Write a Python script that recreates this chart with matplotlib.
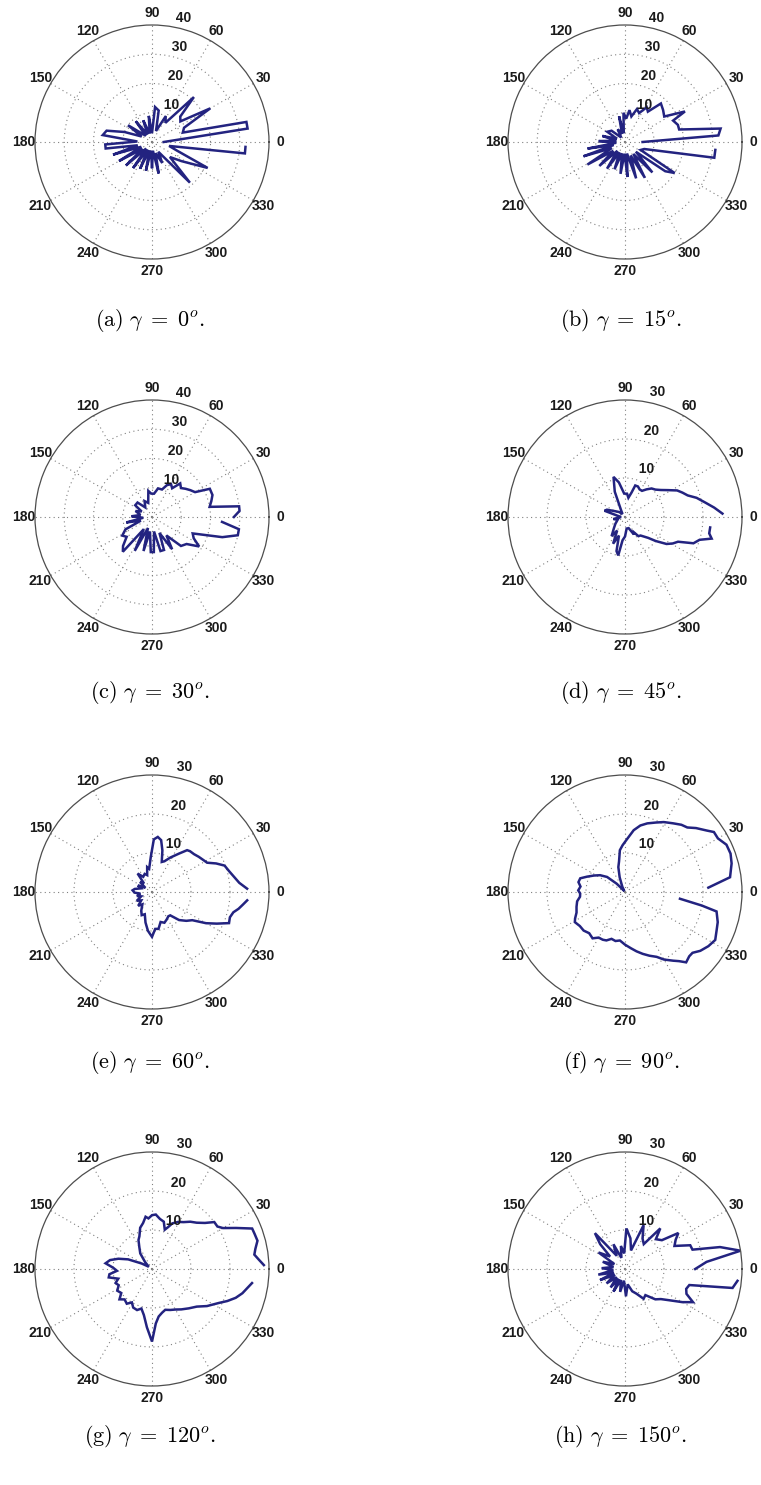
import numpy as np
import matplotlib
matplotlib.use("Agg")
import matplotlib.pyplot as plt

plt.rcParams['mathtext.fontset'] = 'cm'
plt.rcParams['font.family'] = ['Liberation Sans', 'DejaVu Sans']

# angles (deg) and radii
theta_a = [0, 8, 12, 17, 24, 30, 36, 42, 47, 55, 62, 70, 78, 85, 90, 97, 105, 112, 120,
           128, 135, 145, 152, 160, 166, 172, 178, 183, 188, 193, 198, 204, 210, 216, 222,
           228, 234, 240, 246, 252, 258, 264, 270, 276, 282, 288, 296, 303, 313, 320, 327,
           335, 341, 347, 353, 357]
r_a = [4, 33, 33, 11, 12, 23, 12, 13, 21, 8, 10, 4, 11, 12, 3, 9, 3, 8, 3,
       9, 3, 10, 4, 10, 16, 17, 5, 16, 16, 5, 14, 4, 13, 4, 12,
       3, 11, 3, 10, 3, 10, 3, 9, 3, 11, 4, 8, 4, 19, 8, 12,
       21, 9, 6, 32, 32]

theta_b = [0, 4, 8, 13, 18, 24, 27, 33, 40, 47, 53, 58, 64, 70, 76, 82, 87, 93, 98, 103,
           110, 120, 130, 140, 150, 158, 165, 172, 178, 185, 190, 195, 199, 205, 211, 217,
           223, 229, 236, 242, 249, 255, 262, 268, 274, 280, 287, 293, 299, 305, 312, 318,
           324, 328, 333, 340, 350, 355]
r_b = [6, 32, 33, 19, 19, 18, 23, 16, 17, 18, 13, 14, 11, 12, 9, 11, 8, 10, 3, 9,
       3, 5, 2, 6, 7, 3, 8, 3, 9, 3, 13, 4, 15, 5, 15, 5,
       12, 4, 11, 4, 10, 4, 11, 4, 12, 4, 13, 5, 14, 5, 14, 5,
       17, 20, 6, 7, 31, 31]

theta_c = [0, 4, 7, 10, 15, 20, 26, 30, 35, 40, 45, 50, 55, 60, 65, 70, 78, 85, 92, 98,
           105, 115, 125, 135, 145, 152, 160, 170, 178, 185, 192, 198, 205, 212, 218, 225,
           230, 236, 243, 250, 256, 262, 268, 273, 278, 284, 290, 295, 302, 308, 315, 322,
           328, 333, 338, 344, 348, 352, 356]
r_c = [28, 30, 30, 20, 21, 22, 22, 17, 16, 15, 14, 15, 12, 13, 12, 10, 10, 8, 8, 9,
       5, 6, 4, 7, 7, 4, 6, 4, 7, 3, 9, 4, 10, 12, 11, 14,
       15.5, 5, 13, 4, 12, 5, 12, 12, 5, 12, 12, 6, 13, 8, 14, 15,
       19, 16, 15, 25, 30, 30, 24]

theta_d = [2, 6, 10, 15, 19, 23, 27, 32, 37, 42, 47, 52, 57, 62, 67, 72, 75, 80, 85, 92,
           100, 106, 112, 120, 130, 140, 150, 158, 163, 170, 180, 190, 200, 215, 225, 235,
           240, 246, 252, 256, 260, 264, 270, 278, 288, 297, 300, 305, 310, 318, 322, 327,
           331, 335, 339, 343, 346, 349, 353]
r_d = [25, 23, 21, 19, 17, 16, 15, 13, 11.5, 10.5, 10, 9, 8, 8, 8.5, 8.5, 6.5, 5, 6, 6,
       9, 10.7, 7, 2, 1, 2, 3, 5, 5.5, 2, 1, 3, 2, 3, 4, 6,
       4, 7.5, 5, 9, 10, 6, 5, 3, 3, 5, 4.5, 6, 6.2, 8, 10, 12.7,
       14, 15, 18.8, 20, 22.9, 22, 22]

theta_e = [2, 6, 10, 15, 20, 24, 28, 32, 37, 42, 47, 50, 55, 62, 68, 72, 76, 80, 84, 88,
           92, 97, 101, 106, 112, 120, 128, 133, 140, 148, 155, 162, 170, 175, 182, 188,
           195, 202, 210, 218, 225, 232, 240, 246, 252, 258, 264, 270, 275, 280, 286, 292,
           298, 304, 308, 314, 320, 325, 330, 334, 338, 342, 346, 349, 352, 355]
r_e = [24.4, 22.5, 21.5, 20.5, 19.8, 18, 16, 15.5, 15, 14.5, 14.3, 14, 12, 10, 8.5, 8.1,
       11, 13.5, 14.2, 13.5, 9, 6, 6.5, 4.5, 5, 4.5, 6, 3, 4, 2, 4, 3, 4.5, 5, 4.5, 3,
       4, 3, 4.5, 3.5, 5, 4, 5.5, 6.5, 6, 8, 10, 11.5, 9.5, 9.6, 8, 8.5,
       8, 7.5, 7.6, 10, 11.5, 12.6, 16, 18.5, 21.3, 21, 21.5, 22.6, 23.5, 24.5]

theta_f = [3, 8, 15, 20, 25, 30, 34, 37, 42, 46, 50, 55, 61, 66, 72, 77, 82, 88, 93, 97,
           101, 105, 110, 117, 125, 135, 140, 146, 152, 158, 163, 168, 173, 178, 182, 186,
           191, 197, 203, 208, 211, 217, 223, 229, 235, 240, 245, 249, 254, 259, 264, 270,
           276, 281, 286, 291, 296, 300, 305, 308, 311, 315, 318, 322, 327, 332, 337, 342,
           348, 350, 353]
r_f = [21.4, 27.2, 28.3, 28.8, 28.7, 27.5, 27.5, 26.2, 24.5, 23, 22.5, 21.5, 20.5, 19.5,
       18.5, 17.5, 16, 13.5, 12, 10.8, 8, 6.6, 4, 1.5, 0.3, 3, 6, 7.7, 9, 10.5, 12, 12.2,
       11.5, 12, 11.5, 11.6, 12.5, 13, 13.5, 14.5, 15, 14.5, 14.5, 14, 14.5, 13.5, 13.5,
       13.3, 12.5, 12.8, 12.5, 13.5, 14.5, 15.5, 16.5, 17.5, 18.5, 20, 21.5, 22.5, 23.9,
       23.3, 23.3, 24.5, 25.5, 26.2, 25.5, 25, 24, 20, 14.2]

theta_g = [2, 5, 8, 11, 15, 19, 22, 26, 30, 33, 37, 41, 46, 51, 56, 61, 66, 69, 72, 76,
           81, 86, 90, 94, 97, 101, 106, 111, 115, 120, 127, 135, 145, 152, 158, 163, 168,
           173, 178, 183, 187, 191, 196, 201, 206, 212, 218, 223, 228, 234, 239, 244, 250,
           255, 260, 265, 270, 274, 278, 283, 288, 294, 300, 306, 313, 320, 326, 333, 337,
           341, 345, 349, 352]
r_g = [28.7, 27.5, 26.5, 27, 28, 27.8, 27.7, 24, 21, 20, 20, 18, 16.5, 15.6, 14.5, 13.8,
       12.8, 11.5, 10.6, 12.5, 13, 14, 13.8, 13, 13.5, 12, 11, 9, 8.2, 6.5, 5, 2.5, 1, 3,
       6.6, 9, 11, 12, 10, 9, 11, 11.3, 9, 10, 9.5, 10.5, 10, 11.4, 10.5, 11, 10, 11, 11.2,
       10.5, 12, 15, 18.6, 14, 12.3, 11.5, 11, 11.5, 12, 12.8, 13.8, 15, 17, 19.2, 21,
       22.7, 24, 25, 25.9]

theta_h = [0, 5, 9, 13, 16, 20, 25, 30, 34, 38, 44, 49, 53, 60, 67, 72, 80, 88, 93, 100,
           108, 115, 122, 130, 135, 140, 148, 155, 162, 170, 178, 185, 192, 198, 204, 210,
           218, 225, 232, 238, 243, 250, 258, 265, 272, 280, 288, 295, 302, 308, 315, 320,
           325, 330, 334, 338, 342, 346, 350, 354]
r_h = [18, 21, 30, 25, 18, 17.8, 14, 15, 16.5, 12, 11, 13.8, 8, 9, 12.2, 5, 8, 10.4, 4, 6,
       3, 7, 4, 12, 9, 5, 8, 3, 6, 3, 6, 3, 7, 3, 7, 3,
       6, 3, 6, 3, 6.5, 3, 6, 3, 7, 4, 6, 7, 9, 8.5, 11, 12,
       14, 17, 19.4, 17, 16.5, 17, 28, 29]

labels = ['(a)', '(b)', '(c)', '(d)', '(e)', '(f)', '(g)', '(h)']
gammas = [0, 15, 30, 45, 60, 90, 120, 150]
rmaxes = [40, 40, 40, 30, 30, 30, 30, 30]
thetas = [theta_a, theta_b, theta_c, theta_d, theta_e, theta_f, theta_g, theta_h]
radii = [r_a, r_b, r_c, r_d, r_e, r_f, r_g, r_h]

W, H = 761, 1485
fig = plt.figure(figsize=(W / 100, H / 100), dpi=100)

centers_x = [152, 625]
centers_y = [142, 517, 892, 1269]
caption_y = [320, 692, 1063, 1437]
caption_x = [150, 621]
R = 117

line_color = '#232380'

for k in range(8):
    row, col = divmod(k, 2)
    cx, cy = centers_x[col], centers_y[row]
    ax = fig.add_axes([(cx - R) / W, (H - cy - R) / H, 2 * R / W, 2 * R / H],
                      projection='polar')
    rmax = rmaxes[k]
    ax.set_ylim(0, rmax)
    ax.set_yticks(np.arange(10, rmax, 10))
    ax.set_yticklabels([])
    ax.set_xticks(np.deg2rad(np.arange(0, 360, 30)))
    ax.set_xticklabels([])
    ax.grid(True, linestyle=(0, (1, 3)), color='0.5', linewidth=0.8)
    ax.spines['polar'].set_color('0.3')
    ax.spines['polar'].set_linewidth(0.9)
    ax.tick_params(length=0)

    for a in range(0, 360, 30):
        ax.text(np.deg2rad(a), rmax * 1.1, str(a), ha='center', va='center',
                fontsize=10, fontweight='bold', color='#1a1a1a')
    for v in range(10, rmax + 1, 10):
        ax.text(np.deg2rad(82), v + 0.5, '  ' + str(v), ha='left', va='bottom',
                fontsize=10, fontweight='bold', color='#1a1a1a')

    ax.plot(np.deg2rad(thetas[k]), radii[k], color=line_color, linewidth=1.8,
            solid_joinstyle='miter')

    fig.text(caption_x[col] / W, 1 - caption_y[row] / H,
             r'$\mathrm{%s}\ \gamma\;=\;%d^{o}\mathrm{.}$' % (labels[k], gammas[k]),
             ha='center', va='center', fontsize=16)

fig.savefig('out.png', dpi=100)
